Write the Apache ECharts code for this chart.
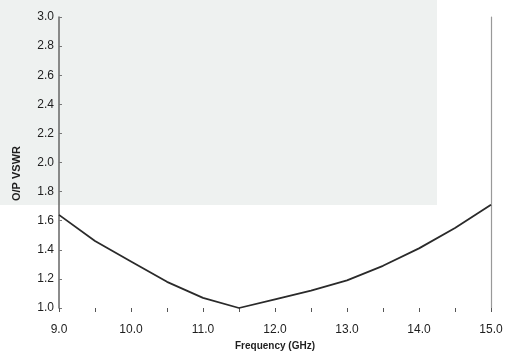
<!DOCTYPE html>
<html>
<head>
<meta charset="utf-8">
<script src="https://cdn.jsdelivr.net/npm/echarts@6/dist/echarts.min.js"></script>
<style>
    html, body { margin: 0; padding: 0; background: #fff; }
    #vswr { width: 513px; height: 356px; }
</style>
</head>
<body>
<div id="vswr"></div>
<script>
// frequency points (GHz) and output VSWR
var freq = [9.0, 9.5, 10.0, 10.5, 11.0, 11.5, 12.0, 12.5, 13.0, 13.5, 14.0, 14.5, 15.0];
var vswr = [1.64, 1.46, 1.32, 1.18, 1.07, 1.0, 1.06, 1.12, 1.19, 1.29, 1.41, 1.55, 1.71];

var xTicks = ["9.0", "10.0", "11.0", "12.0", "13.0", "14.0", "15.0"];

function getPoints() {
    var pts = [];
    for (var i = 0; i < freq.length; i++) {
        pts.push([freq[i], vswr[i]]);
    }
    return pts;
}

function createChart(div) {
    var myChart = echarts.init(document.getElementById(div));
    var textColor = "#1e1e1e";
    option = {
        animation: false,
        backgroundColor: "#fff",
        // grey patch left by the scan
        graphic: [{
            type: "rect",
            z: -10,
            shape: { x: 0, y: 0, width: 437, height: 205 },
            style: { fill: "#eef1f0" },
        }],
        grid: { left: 59, right: 22, top: 17, bottom: 48 },
        xAxis: {
            type: "value",
            min: 9,
            max: 15,
            interval: 0.5,
            name: "Frequency (GHz)",
            nameLocation: "middle",
            nameGap: 31,
            nameTextStyle: {
                color: textColor,
                fontFamily: "Liberation Sans",
                fontWeight: "bold",
                fontSize: 10,
            },
            axisLine: { show: false },
            axisTick: {
                show: true,
                length: 4,
                lineStyle: { color: "#555", width: 1 },
            },
            axisLabel: {
                margin: 16,
                color: textColor,
                fontFamily: "Liberation Sans",
                fontSize: 12,
                formatter: function(v) {
                    var s = v.toFixed(1);
                    return xTicks.indexOf(s) == -1 ? "" : s;
                },
            },
            splitLine: { show: false },
        },
        yAxis: [{
                type: "value",
                min: 1.0,
                max: 3.0,
                interval: 0.2,
                name: "O/P VSWR",
                nameLocation: "middle",
                nameGap: 37,
                nameTextStyle: {
                    color: textColor,
                    fontFamily: "Liberation Sans",
                    fontWeight: "bold",
                    fontSize: 11,
                    padding: [0, 22, 0, 0],
                },
                axisLine: {
                    show: true,
                    lineStyle: { color: "#666", width: 1.5 },
                },
                axisTick: {
                    show: true,
                    inside: true,
                    length: 3,
                    lineStyle: { color: "#777" },
                },
                axisLabel: {
                    margin: 5,
                    color: textColor,
                    fontFamily: "Liberation Sans",
                    fontSize: 12,
                    formatter: function(v) {
                        return v.toFixed(1);
                    },
                },
                splitLine: { show: false },
            },
            {
                type: "value",
                position: "right",
                min: 1.0,
                max: 3.0,
                axisLine: {
                    show: true,
                    lineStyle: { color: "#999", width: 1.2 },
                },
                axisTick: { show: false },
                axisLabel: { show: false },
                splitLine: { show: false },
            },
        ],
        series: [{
            name: "O/P VSWR",
            type: "line",
            data: getPoints(),
            symbol: "none",
            lineStyle: { color: "#2a2a2a", width: 1.8 },
        }],
    };
    myChart.setOption(option);
}

createChart("vswr");
</script>
</body>
</html>
